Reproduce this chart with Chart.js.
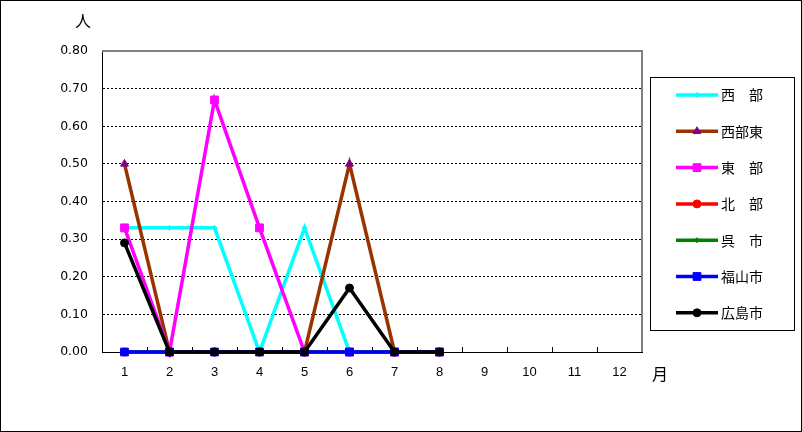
<!DOCTYPE html>
<html>
<head>
<meta charset="utf-8">
<style>
  html, body { margin: 0; padding: 0; background: #fff; }
  #wrap { width: 802px; height: 432px; }
</style>
<script src="https://cdn.jsdelivr.net/npm/chart.js@4/dist/chart.umd.min.js"></script>
</head>
<body>
<div id="wrap"><canvas id="c" width="802" height="432"></canvas></div>
<script>
// 月
const months = ['1', '2', '3', '4', '5', '6', '7', '8', '9', '10', '11', '12'];
// 地区ごとの値（人）
const seibu      = [0.33, 0.33, 0.33, 0, 0.33, 0, 0, 0];
const seibuHigashi = [0.50, 0, 0, 0, 0, 0.50, 0, 0];
const tobu       = [0.33, 0, 0.67, 0.33, 0, 0, 0, 0];
const hokubu     = [0, 0, 0, 0, 0, 0, 0, 0];
const kure       = [0, 0, 0, 0, 0, 0, 0, 0];
const fukuyama   = [0, 0, 0, 0, 0, 0, 0, 0];
const hiroshima  = [0.29, 0, 0, 0, 0, 0.17, 0, 0];
const yTicks = [0, 0.1, 0.2, 0.3, 0.4, 0.5, 0.6, 0.7, 0.8];

const FONT = '"Liberation Sans", Arial, sans-serif';
const JFONT = '"Noto Sans CJK JP", sans-serif';

function ds(label, data, color, style, radius, fill) {
  return {
    label, data,
    borderColor: color, backgroundColor: fill || color,
    pointBorderColor: fill || color, pointBackgroundColor: fill || color,
    borderWidth: 3.5, pointStyle: style, pointRadius: radius, pointBorderWidth: 1,
    tension: 0, clip: false
  };
}

const datasets = [
  ds('西　部', seibu, '#00FFFF', 'rectRot', 2.5),
  ds('西部東', seibuHigashi, '#993300', 'triangle', 4.5, '#800080'),
  ds('東　部', tobu, '#FF00FF', 'rect', 5.5),
  ds('北　部', hokubu, '#FF0000', 'circle', 4),
  ds('呉　市', kure, '#008000', 'rectRot', 2.5),
  ds('福山市', fukuyama, '#0000FF', 'rect', 5.5),
  ds('広島市', hiroshima, '#000000', 'circle', 4)
];
// 後の系列を上に描く
datasets.forEach((d, i) => { d.order = datasets.length - i; });

const decor = {
  id: 'decor',
  beforeDatasetsDraw(chart) {
    const ctx = chart.ctx;
    const a = chart.chartArea;
    ctx.save();
    // plot border (top / right)
    ctx.strokeStyle = '#808080';
    ctx.lineWidth = 2;
    ctx.beginPath();
    ctx.moveTo(a.left, a.top);
    ctx.lineTo(a.right, a.top);
    ctx.lineTo(a.right, a.bottom);
    ctx.stroke();
    // inward x ticks at category boundaries
    ctx.strokeStyle = '#000';
    ctx.lineWidth = 1;
    const step = (a.right - a.left) / months.length;
    ctx.beginPath();
    for (let i = 1; i < months.length; i++) {
      const x = Math.round(a.left + i * step) + 0.5;
      ctx.moveTo(x, a.bottom);
      ctx.lineTo(x, a.bottom - 5);
    }
    ctx.stroke();
    ctx.restore();
  },
  afterDraw(chart) {
    const ctx = chart.ctx;
    ctx.save();
    // outer frame
    ctx.strokeStyle = '#000';
    ctx.lineWidth = 1;
    ctx.strokeRect(0.5, 0.5, chart.width - 1, chart.height - 1);
    // axis units
    ctx.fillStyle = '#000';
    ctx.font = '16px ' + JFONT;
    ctx.textAlign = 'center';
    ctx.textBaseline = 'middle';
    ctx.fillText('人', 83, 21);
    ctx.fillText('月', 660, 374);
    // legend
    const lx = 650, ly = 77, lw = 144, lh = 253;
    ctx.strokeRect(lx + 0.5, ly + 0.5, lw, lh);
    ctx.font = '14px ' + JFONT;
    ctx.textAlign = 'left';
    chart.data.datasets.forEach((d, i) => {
      const y = 95 + i * 36.3;
      ctx.strokeStyle = d.borderColor;
      ctx.lineWidth = 3.5;
      ctx.beginPath();
      ctx.moveTo(676, y);
      ctx.lineTo(718, y);
      ctx.stroke();
      ctx.fillStyle = d.pointBackgroundColor;
      ctx.strokeStyle = d.pointBorderColor;
      ctx.lineWidth = 1;
      Chart.helpers.drawPoint(ctx, { pointStyle: d.pointStyle, radius: d.pointRadius, borderWidth: 1, rotation: 0 }, 697, y);
      ctx.fillStyle = '#000';
      ctx.fillText(d.label, 721, y);
    });
    ctx.restore();
  }
};

new Chart(document.getElementById('c'), {
  type: 'line',
  data: { labels: months, datasets },
  options: {
    responsive: false,
    animation: false,
    layout: { padding: { top: 51, right: 160, left: 0, bottom: 0 } },
    plugins: { legend: { display: false }, tooltip: { enabled: false } },
    scales: {
      x: {
        offset: true,
        grid: { display: false, drawTicks: false },
        border: { display: true, color: '#000', width: 1 },
        ticks: { color: '#000', font: { family: FONT, size: 13 }, padding: 13, maxRotation: 0 },
        afterFit(s) { s.height = 80; }
      },
      y: {
        min: 0, max: 0.8,
        afterBuildTicks(s) { s.ticks = yTicks.map(v => ({ value: v })); },
        grid: {
          drawTicks: false,
          color: c => (c.tick && (c.tick.value === 0 || c.tick.value === 0.8)) ? 'rgba(0,0,0,0)' : '#000',
          lineWidth: 1
        },
        border: { display: true, color: '#000', width: 1, dash: [2, 2] },
        ticks: { color: '#000', font: { family: '"DejaVu Sans", sans-serif', size: 12.5 }, padding: 14, callback: v => Number(v).toFixed(2) },
        afterFit(s) { s.width = 102; }
      }
    }
  },
  plugins: [decor]
});
</script>
</body>
</html>
